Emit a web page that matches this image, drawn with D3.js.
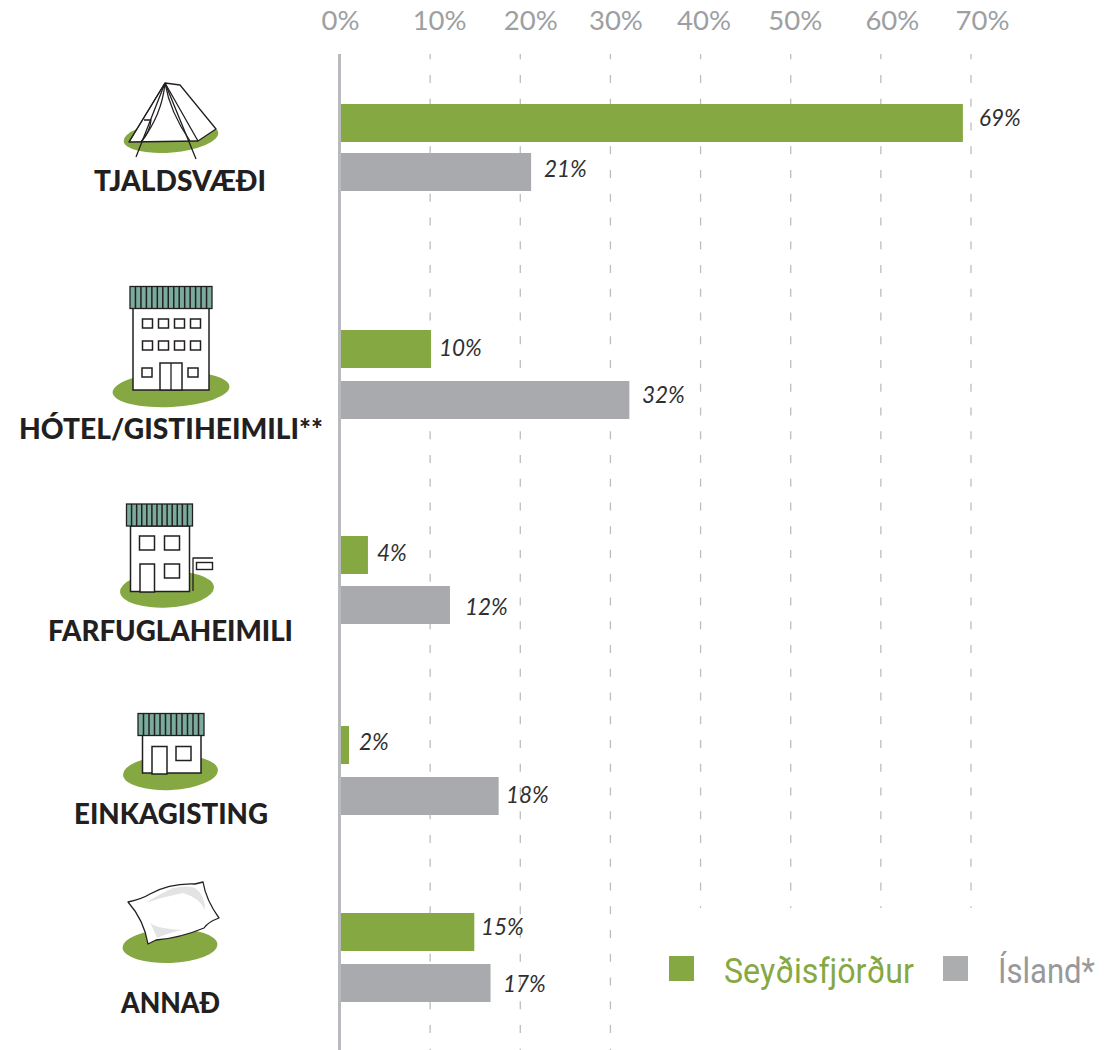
<!DOCTYPE html>
<html>
<head>
<meta charset="utf-8">
<script src="https://cdn.jsdelivr.net/npm/d3@7"></script>
<style>
html, body { margin: 0; padding: 0; background: #fff; }
svg { display: block; }
</style>
</head>
<body>
<div id="chart"></div>
<script>
"use strict";

const categories = ["TJALDSVÆÐI", "HÓTEL/GISTIHEIMILI**", "FARFUGLAHEIMILI", "EINKAGISTING", "ANNAÐ"];
// bar lengths as measured, they don't always agree with the printed labels
const seydisValues = [69.1, 10.1, 3.1, 1, 14.9];
const islandValues = [21.2, 32.1, 12.2, 17.6, 16.7];
const seydisLabels = ["69%", "10%", "4%", "2%", "15%"];
const islandLabels = ["21%", "32%", "12%", "18%", "17%"];
const tickValues = [0, 10, 20, 30, 40, 50, 60, 70];
const seriesNames = ["Seyðisfjörður", "Ísland*"];

const green = "#85a843";
const grey = "#a9aaad";
const teal = "#7bab9c";

const w = 1113, h = 1050;
const svg = d3.select("#chart").append("svg").attr("width", w).attr("height", h);

const x = d3.scaleLinear().domain([0, 70]).range([340, 971]);

// the printed layout is not evenly spaced, so top of each bar is a lookup
const ySeydis = d3.scaleOrdinal().domain(categories).range([104, 330, 536, 726, 913]);
const yIsland = d3.scaleOrdinal().domain(categories).range([153, 381, 586, 777, 964]);
const barH = 38;

// grid
const grid = svg.append("g");
tickValues.filter(d => d > 0).forEach(d => {
    grid.append("line")
        .attr("x1", x(d)).attr("x2", x(d))
        .attr("y1", 54).attr("y2", d <= 30 ? 1050 : 908)
        .attr("stroke", "#bcbdbf")
        .attr("stroke-width", 1.3)
        .attr("stroke-dasharray", "8 15.75")
        .attr("stroke-dashoffset", 2.75);
});

// axis, labels sit a bit off their gridlines in the original
const tickShift = [0, 9, 10, 5, 3, 4, 11, 11];
const axis = d3.axisTop(x).tickValues(tickValues).tickFormat(d => d + "%").tickSize(0);
const axisG = svg.append("g").attr("transform", "translate(0,30)").call(axis);
axisG.select(".domain").remove();
axisG.selectAll("text")
    .attr("fill", "#9d9fa2")
    .attr("dy", 0)
    .attr("y", 0)
    .attr("x", (d, i) => tickShift[i])
    .style("font-family", "Lato")
    .style("font-size", "27.5px");

// bars
function bars(values, y, color) {
    svg.append("g").selectAll("rect")
        .data(values)
        .enter().append("rect")
        .attr("x", x(0))
        .attr("y", (d, i) => y(categories[i]))
        .attr("width", d => x(d) - x(0))
        .attr("height", barH)
        .attr("fill", color);
}
bars(seydisValues, ySeydis, green);
bars(islandValues, yIsland, grey);

svg.append("line")
    .attr("x1", 339.5).attr("x2", 339.5).attr("y1", 54).attr("y2", 1050)
    .attr("stroke", "#b9babd").attr("stroke-width", 3);

// value labels
const seydisLabelX = [979, 439, 377, 359, 481];
const islandLabelX = [544, 642, 465, 506, 503];
const seydisLabelY = [126, 356, 561, 750, 935];
const islandLabelY = [177, 403, 615, 803, 992];
function labels(list, xs, ys) {
    svg.append("g").selectAll("text")
        .data(list)
        .enter().append("text")
        .attr("x", (d, i) => xs[i])
        .attr("y", (d, i) => ys[i])
        .attr("fill", "#2f2f31")
        .style("font-family", "Lato")
        .style("font-style", "italic")
        .style("font-size", "22.5px")
        .text(d => d);
}
labels(seydisLabels, seydisLabelX, seydisLabelY);
labels(islandLabels, islandLabelX, islandLabelY);

// category names
const catX = [94, 19, 48, 74, 121];
const catY = [191, 439, 641, 824, 1013];
const catWidth = [172, 304, 245, 194, 99];
svg.append("g").selectAll("text")
    .data(categories)
    .enter().append("text")
    .attr("x", (d, i) => catX[i])
    .attr("y", (d, i) => catY[i])
    .attr("textLength", (d, i) => catWidth[i])
    .attr("lengthAdjust", "spacingAndGlyphs")
    .attr("fill", "#231f20")
    .style("font-family", "Lato")
    .style("font-weight", 900)
    .style("font-size", "29px")
    .text(d => d);

// icons
const ink = "#231f20";
function ground(cx, cy, rx, ry, rot) {
    svg.append("ellipse")
        .attr("cx", cx).attr("cy", cy).attr("rx", rx).attr("ry", ry)
        .attr("transform", "rotate(" + rot + " " + cx + " " + cy + ")")
        .attr("fill", green);
}
function box(px, py, pw, ph, sw) {
    svg.append("rect")
        .attr("x", px).attr("y", py).attr("width", pw).attr("height", ph)
        .attr("fill", "#fff").attr("stroke", ink).attr("stroke-width", sw || 1.5);
}
function roof(px, py, pw, ph, n) {
    svg.append("rect")
        .attr("x", px).attr("y", py).attr("width", pw).attr("height", ph)
        .attr("fill", teal).attr("stroke", ink).attr("stroke-width", 1.3);
    d3.range(1, n).forEach(i => {
        svg.append("line")
            .attr("x1", px + i * pw / n).attr("x2", px + i * pw / n)
            .attr("y1", py).attr("y2", py + ph)
            .attr("stroke", ink).attr("stroke-width", 1.5);
    });
}
function path(d, fill, sw) {
    svg.append("path").attr("d", d)
        .attr("fill", fill || "none")
        .attr("stroke", ink)
        .attr("stroke-width", sw || 1.3)
        .attr("stroke-linejoin", "round");
}

// tent
ground(171, 137, 47.5, 15.5, -5);
path("M165 83 L180 85 L216 129 L198 141 L129 142 Z", "#fff");
path("M165 83 L129 142 M165 83 L198 141");
path("M165 83 L136 157 M165 83 L196 159");
path("M165 83 Q162 115 141 142 M165 83 Q170 112 190 141");
path("M144 120 L151 120 Q150 132 141 142");

// hotel
ground(171, 389.5, 58.5, 17.5, -3);
box(133, 308, 76, 82);
roof(130, 286.5, 82, 22, 15);
d3.range(4).forEach(i => {
    box(142.5 + i * 16, 319, 10, 9, 1.5);
    box(142.5 + i * 16, 341, 10, 9, 1.5);
});
box(142, 368, 10, 9, 1.5);
box(188, 368, 10, 9, 1.5);
box(160, 363, 22, 27, 1.5);
path("M171 363 L171 390");

// hostel
ground(167, 589.5, 47, 18, -3);
box(130.5, 526, 59, 65.5);
roof(126.5, 504, 66, 22, 13);
box(139.5, 536, 15, 14, 1.5);
box(164.5, 536, 15, 14, 1.5);
box(140, 564, 14.5, 28, 1.5);
box(164.5, 564, 15, 14, 1.5);
path("M193 591 L193 558 L213 558");
box(196.5, 562.5, 16, 7, 1.4);

// private house
ground(170.5, 772.5, 47.5, 17.5, -3);
box(142.5, 735, 58.5, 38);
roof(138, 713.5, 66, 22, 12);
box(152, 746.5, 15, 27.5, 1.5);
box(176, 746.5, 15, 14, 1.5);

// pillow
ground(170, 946, 47.5, 17, -2);
path("M128 902 Q142 899 150 894 Q170 883 195 884 L203 882 Q206 900 219 918 Q208 922 204 928 Q180 938 156 940 L148 944 Q144 920 128 902 Z", "#fff");
svg.append("path")
    .attr("d", "M145 903 Q160 894 173 888 Q188 885 195 888 Q205 895 205 910 Q200 898 183 893 Q163 897 145 903 Z")
    .attr("fill", "#e2e3e5");
svg.append("path")
    .attr("d", "M150 922 Q152 928 182 930 Q165 934 157 938 Z")
    .attr("fill", "#e2e3e5");

// legend
const legendRect = [669, 943];
const legendText = [724, 998];
const legendColor = [green, "#acadaf"];
const legendInk = [green, "#97999b"];
const legendWidth = [190, 97];
seriesNames.forEach((name, i) => {
    svg.append("rect")
        .attr("x", legendRect[i]).attr("y", 956).attr("width", 25).attr("height", 25)
        .attr("fill", legendColor[i]);
    svg.append("text")
        .attr("x", legendText[i]).attr("y", 983)
        .attr("fill", legendInk[i])
        .attr("textLength", legendWidth[i])
        .attr("lengthAdjust", "spacingAndGlyphs")
        .style("font-family", "Roboto")
        .style("font-size", "35px")
        .text(name);
});
</script>
</body>
</html>
